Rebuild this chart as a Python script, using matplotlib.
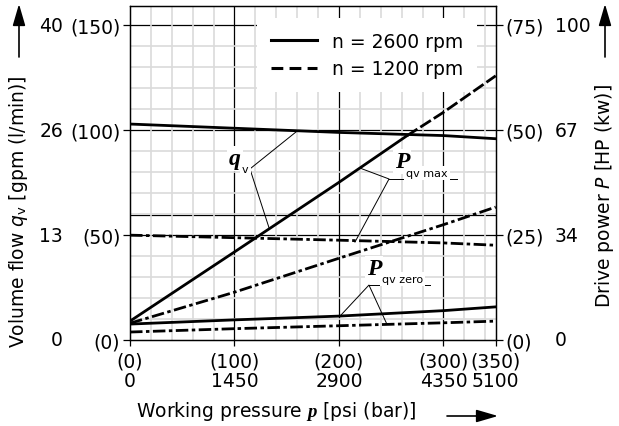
import numpy as np
import matplotlib
matplotlib.use("Agg")
import matplotlib.pyplot as plt
from matplotlib.lines import Line2D
from matplotlib.patches import FancyArrowPatch

plt.rcParams['font.family'] = ['DejaVu Sans']
plt.rcParams['font.size'] = 13.5
plt.rcParams['lines.scale_dashes'] = False
plt.rcParams['mathtext.fontset'] = 'custom'
plt.rcParams['mathtext.rm'] = 'DejaVu Sans'
plt.rcParams['mathtext.sf'] = 'DejaVu Sans:italic'
plt.rcParams['mathtext.it'] = 'Liberation Serif:italic:bold'
plt.rcParams['mathtext.bf'] = 'DejaVu Sans:bold'

# pressure axis (bar) and tick labels
pressure = [0, 100, 200, 300, 350]
bar_ticks = [0, 100, 200, 300, 350]
psi_ticks = [0, 1450, 2900, 4350, 5100]
lpm_ticks = [0, 50, 100, 150]
gpm_ticks = [0, 13, 26, 40]
kw_ticks = [0, 25, 50, 75]
hp_ticks = [0, 34, 67, 100]

# volume flow (l/min)
qv_2600 = [103, 101, 99, 97.5, 96]
qv_1200 = [50, 48.8, 47.6, 46.3, 45.2]

# drive power (kW)
pmax_2600_p = [0, 100, 200, 265]
pmax_2600 = [4.5, 21, 37.6, 48.7]
pmax_2600_ext_p = [265, 300, 350]
pmax_2600_ext = [48.7, 54.3, 63]
pmax_1200 = [4.0, 11.4, 19.5, 27.5, 31.7]
pzero_2600 = [3.8, 4.8, 5.7, 7.0, 7.9]
pzero_1200 = [1.9, 2.7, 3.4, 4.1, 4.5]

# heavy reference lines of the chart grid
ref_bar = [100, 200, 300]
ref_lpm = [50, 59.5, 100, 150]

W, H = 619, 427
fig = plt.figure(figsize=(W / 100, H / 100), dpi=100)
ax = fig.add_axes([130 / W, 86 / H, 365.7 / W, 334 / H])
ymax = 159.3
ax.set_xlim(0, 350)
ax.set_ylim(0, ymax)

# light grid
ax.set_xticks(np.arange(0, 350, 20), minor=True)
ax.set_yticks(np.arange(0, 160, 10), minor=True)
ax.grid(which='minor', color='#dadada', lw=1.2)
ax.tick_params(which='minor', length=0)
for b in ref_bar:
    ax.axvline(b, color='black', lw=0.9, zorder=1)
for v in ref_lpm:
    ax.axhline(v, color='black', lw=0.9, zorder=1)

dash_dot = (0, (9, 2.5, 2.5, 2.5))
ax.plot(pressure, qv_2600, color='black', lw=2.0, zorder=2)
ax.plot(pressure, qv_1200, color='black', lw=2.0, ls=dash_dot, zorder=2)

ax2 = ax.twinx()
ax2.set_ylim(0, ymax / 2)
ax2.plot(pmax_2600_p, pmax_2600, color='black', lw=2.0)
ax2.plot(pmax_2600_ext_p, pmax_2600_ext, color='black', lw=2.0, ls=(0, (9, 2.5)))
ax2.plot(pressure, pmax_1200, color='black', lw=2.0, ls=dash_dot)
ax2.plot(pressure, pzero_2600, color='black', lw=2.0)
ax2.plot(pressure, pzero_1200, color='black', lw=2.0, ls=dash_dot)

# ticks
ax.set_xticks(bar_ticks, labels=[f"({b})\n{p}" for b, p in zip(bar_ticks, psi_ticks)])
for t in ax.get_xticklabels():
    t.set_linespacing(1.05)
ax.set_yticks(lpm_ticks, labels=[f"({v})" for v in lpm_ticks])
ax.tick_params(axis='x', length=4, width=0.9, pad=4)
ax.tick_params(axis='y', length=5, width=0.9, pad=2)
ax2.set_yticks(kw_ticks, labels=[f"({v})" for v in kw_ticks])
ax2.tick_params(axis='y', length=5, width=0.9, pad=2)
for s in list(ax.spines.values()) + list(ax2.spines.values()):
    s.set_linewidth(0.9)

tl = ax.get_yaxis_transform()
for v, g in zip(lpm_ticks, gpm_ticks):
    ax.text(-0.183, v, str(g), transform=tl, ha='right', va='center')
for v, h in zip(kw_ticks, hp_ticks):
    ax2.text(1.162, v, str(h), transform=ax2.get_yaxis_transform(), ha='left', va='center')

# legend
handles = [Line2D([], [], color='black', lw=2.2),
           Line2D([], [], color='black', lw=2.2, ls=(0, (8.5, 4.5)))]
leg = ax.legend(handles, ['n = 2600 rpm', 'n = 1200 rpm'], loc='upper right',
                bbox_to_anchor=(0.95, 0.965), frameon=True, fancybox=False,
                facecolor='white', edgecolor='none', framealpha=1,
                handlelength=2.45, handletextpad=0.8, labelspacing=0.45,
                borderpad=0.75, borderaxespad=0)
leg.set_zorder(5)

# annotations
lead = dict(color='black', lw=0.7, zorder=3)
white = dict(facecolor='white', edgecolor='none', pad=1.5)
serif = dict(family='Liberation Serif', style='italic', weight='bold', size=17)

ax.plot([159.8, 114.8, 133], [99.6, 81.6, 53.6], **lead)
ax.text(106.2, 84.0, "q", ha='right', va='baseline', bbox=white, zorder=4, **serif)
ax.text(107.2, 80.1, "v", ha='left', va='baseline', size=8, bbox=white, zorder=4)

ax.plot([220.1, 247.9, 215.3], [82.0, 76.8, 46.7], **lead)
ax.plot([247.9, 313], [76.8, 76.8], **lead)
ax.text(253.6, 82.5, "P", ha='left', va='baseline', bbox=white, zorder=4, **serif)
ax.text(264.1, 78.2, "qv max", ha='left', va='baseline', size=8, bbox=white, zorder=4)

ax.plot([201, 228.7, 246], [11.4, 26.2, 7.4], **lead)
ax.plot([228.7, 287.1], [26.2, 26.2], **lead)
ax.text(226.8, 31.5, "P", ha='left', va='baseline', bbox=white, zorder=4, **serif)
ax.text(241.2, 27.7, "qv zero", ha='left', va='baseline', size=8, bbox=white, zorder=4)

# axis titles with arrows
def px(x, y):
    return (x / W, 1 - y / H)

fig.text(*px(19, 212), r"Volume flow $\mathsf{q}_\mathrm{v}$ [gpm (l/min)]",
         rotation=90, ha='center', va='center')
fig.text(*px(605, 196), r"Drive power $\mathsf{P}$ [HP (kw)]",
         rotation=90, ha='center', va='center')
fig.text(*px(276, 412), r"Working pressure $p$ [psi (bar)]", ha='center', va='center')

arrow = dict(arrowstyle='-|>,head_length=1.2,head_width=0.35', color='black', lw=1.2,
             mutation_scale=11, shrinkA=0, shrinkB=0, transform=fig.transFigure)
fig.add_artist(FancyArrowPatch(px(19, 58), px(19, 5), **arrow))
fig.add_artist(FancyArrowPatch(px(605, 58), px(605, 5), **arrow))
fig.add_artist(FancyArrowPatch(px(447, 417), px(498, 417), **arrow))

fig.savefig("out.png", dpi=100)
